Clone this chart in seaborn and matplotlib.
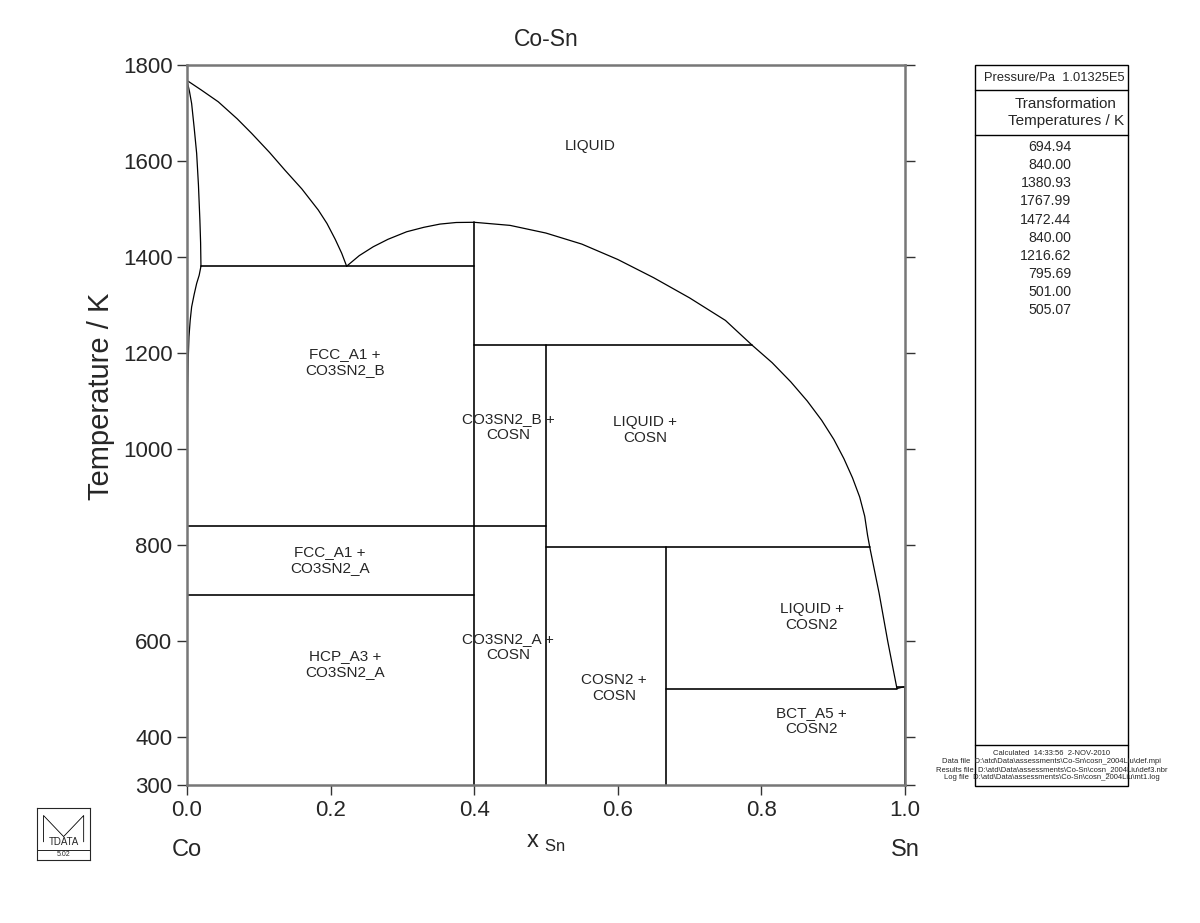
import numpy as np
import pandas as pd
import seaborn as sns
import matplotlib.pyplot as plt
from matplotlib.patches import Rectangle

sns.set_style("white")
plt.rcParams['font.family'] = ['Liberation Sans', 'DejaVu Sans']

# Phase boundary curves (x_Sn, T/K)
liq_left_x = [0.0, 0.02, 0.0436, 0.07, 0.0901, 0.115, 0.1365, 0.16, 0.1829, 0.195, 0.2065, 0.2155, 0.2224]
liq_left_t = [1767.99, 1748.0, 1723.5, 1688.0, 1657.7, 1618.0, 1581.0, 1542.0, 1498.0, 1470.0, 1437.0, 1408.0, 1380.93]
sol_fcc_x = [0.0, 0.0035, 0.0065, 0.01, 0.0135, 0.016, 0.018, 0.019, 0.0195]
sol_fcc_t = [1767.99, 1745.0, 1720.0, 1670.0, 1616.0, 1550.0, 1477.0, 1430.0, 1380.93]
solvus_x = [0.0195, 0.017, 0.0135, 0.010, 0.0065, 0.0045, 0.0028, 0.0018, 0.001, 0.0005, 0.0002, 0.0]
solvus_t = [1380.93, 1362.0, 1345.0, 1322.0, 1296.0, 1268.0, 1234.0, 1190.0, 1137.0, 1070.0, 1000.0, 840.0]
liq_right_x = [0.2224, 0.24, 0.2595, 0.28, 0.306, 0.33, 0.3524, 0.375, 0.4,
               0.45, 0.5, 0.55, 0.6, 0.65, 0.7, 0.75, 0.787,
               0.815, 0.841, 0.864, 0.884, 0.901, 0.915, 0.927, 0.937, 0.944, 0.948, 0.951,
               0.964, 0.976, 0.9889, 1.0]
liq_right_t = [1380.93, 1403.0, 1421.5, 1437.0, 1452.7, 1462.0, 1468.7, 1472.0, 1472.44,
               1466.0, 1450.0, 1427.0, 1395.0, 1357.0, 1315.0, 1268.0, 1216.62,
               1180.0, 1140.0, 1100.0, 1060.0, 1020.0, 980.0, 940.0, 900.0, 860.0, 820.0, 795.69,
               700.0, 600.0, 501.0, 505.07]

# invariant lines: (x_start, x_end, T)
hline_x0 = [0.0195, 0.4, 0.0, 0.0, 0.5, 0.6667, 0.9889]
hline_x1 = [0.4, 0.787, 0.5, 0.4, 0.951, 0.9889, 1.0]
hline_t = [1380.93, 1216.62, 840.0, 694.94, 795.69, 501.0, 505.07]
# compound lines: (x, T_top)
vline_x = [0.4, 0.5, 0.6667, 1.0]
vline_t = [1472.44, 1216.62, 795.69, 505.07]

region_labels = ["LIQUID", "FCC_A1 +\nCO3SN2_B", "CO3SN2_B +\nCOSN", "LIQUID +\nCOSN",
                 "FCC_A1 +\nCO3SN2_A", "HCP_A3 +\nCO3SN2_A", "CO3SN2_A +\nCOSN",
                 "LIQUID +\nCOSN2", "COSN2 +\nCOSN", "BCT_A5 +\nCOSN2"]
label_x = [0.561, 0.22, 0.447, 0.638, 0.199, 0.22, 0.447, 0.870, 0.595, 0.870]
label_t = [1631, 1181, 1046, 1040, 769, 552, 587, 650, 502, 433]

trans_temps = ["694.94", "840.00", "1380.93", "1767.99", "1472.44",
               "840.00", "1216.62", "795.69", "501.00", "505.07"]

fig = plt.figure(figsize=(12, 9.23), dpi=100)
ax = fig.add_axes([0.1558, 0.1495, 0.5983, 0.780])

lw = 0.9
for xs, ts in [(liq_left_x, liq_left_t), (sol_fcc_x, sol_fcc_t),
               (solvus_x, solvus_t), (liq_right_x, liq_right_t)]:
    sns.lineplot(x=xs, y=ts, sort=False, estimator=None, color='black', lw=lw, ax=ax)
for x0, x1, t in zip(hline_x0, hline_x1, hline_t):
    sns.lineplot(x=[x0, x1], y=[t, t], sort=False, estimator=None, color='black', lw=lw * 1.3, ax=ax)
for x, t in zip(vline_x, vline_t):
    sns.lineplot(x=[x, x], y=[300, t], sort=False, estimator=None, color='black',
                 lw=lw * (2.2 if x == 1.0 else 1.3), ax=ax)

for s, x, t in zip(region_labels, label_x, label_t):
    ax.text(x, t, s, ha='center', va='center', fontsize=11)

ax.set_xlim(0, 1)
ax.set_ylim(300, 1800)
ax.set_xticks([0.0, 0.2, 0.4, 0.6, 0.8, 1.0])
ax.set_yticks([300, 400, 600, 800, 1000, 1200, 1400, 1600, 1800])
ax.tick_params(axis='both', direction='out', length=7, width=1, labelsize=16, color='#333333')
ax.tick_params(axis='y', right=True, left=True)
ax.tick_params(axis='x', bottom=True, top=False)
for sp in ax.spines.values():
    sp.set_color('#777777')
    sp.set_linewidth(1.8)
ax.set_title("Co-Sn", fontsize=16.5, pad=14)
ax.set_ylabel("Temperature / K", fontsize=21)
ax.yaxis.set_label_coords(-0.1, 0.54)
ax.set_xlabel(r"x $_{\mathregular{Sn}}$", fontsize=17, labelpad=8)
ax.text(0.0, -0.09, "Co", transform=ax.transAxes, ha='center', va='center', fontsize=17)
ax.text(1.0, -0.09, "Sn", transform=ax.transAxes, ha='center', va='center', fontsize=17)

# right information panel
pan = fig.add_axes([0.8125, 0.1484, 0.1275, 0.7812])
pan.set_xlim(0, 1)
pan.set_ylim(1, 0)
pan.axis('off')
pan.add_patch(Rectangle((0, 0), 1, 1, fill=False, lw=1, ec='black', transform=pan.transAxes, clip_on=False))
for yy in [0.0347, 0.097, 0.943]:
    pan.plot([0, 1], [yy, yy], color='black', lw=1, clip_on=False)
pan.text(0.52, 0.0175, "Pressure/Pa  1.01325E5", ha='center', va='center', fontsize=9.3)
pan.text(0.595, 0.066, "Transformation\nTemperatures / K", ha='center', va='center', fontsize=11)
for i, s in enumerate(trans_temps):
    pan.text(0.63, 0.114 + i * 0.0251, s, ha='right', va='center', fontsize=10.2)
pan.text(0.5, 0.955, "Calculated  14:33:56  2-NOV-2010", ha='center', va='center', fontsize=5.5)
small = ["Data file  D:\\atd\\Data\\assessments\\Co-Sn\\cosn_2004Liu\\def.mpi",
         "Results file  D:\\atd\\Data\\assessments\\Co-Sn\\cosn_2004Liu\\def3.nbr",
         "Log file  D:\\atd\\Data\\assessments\\Co-Sn\\cosn_2004Liu\\mt1.log"]
for i, s in enumerate(small):
    pan.text(0.5, 0.966 + i * 0.0111, s, ha='center', va='center', fontsize=5.5)

# logo
logo = fig.add_axes([0.031, 0.068, 0.044, 0.057])
logo.set_xlim(0, 1)
logo.set_ylim(0, 1)
logo.set_xticks([])
logo.set_yticks([])
for sp in logo.spines.values():
    sp.set_linewidth(0.8)
logo.plot([0, 1], [0.2, 0.2], color='black', lw=0.6)
logo.plot([0.12, 0.12, 0.5, 0.88, 0.88], [0.35, 0.85, 0.45, 0.85, 0.35], color='black', lw=0.6)
logo.text(0.5, 0.35, "TDATA", ha='center', va='center', fontsize=7)
logo.text(0.5, 0.1, "5.02", ha='center', va='center', fontsize=5)

fig.savefig("out.png", dpi=100)
